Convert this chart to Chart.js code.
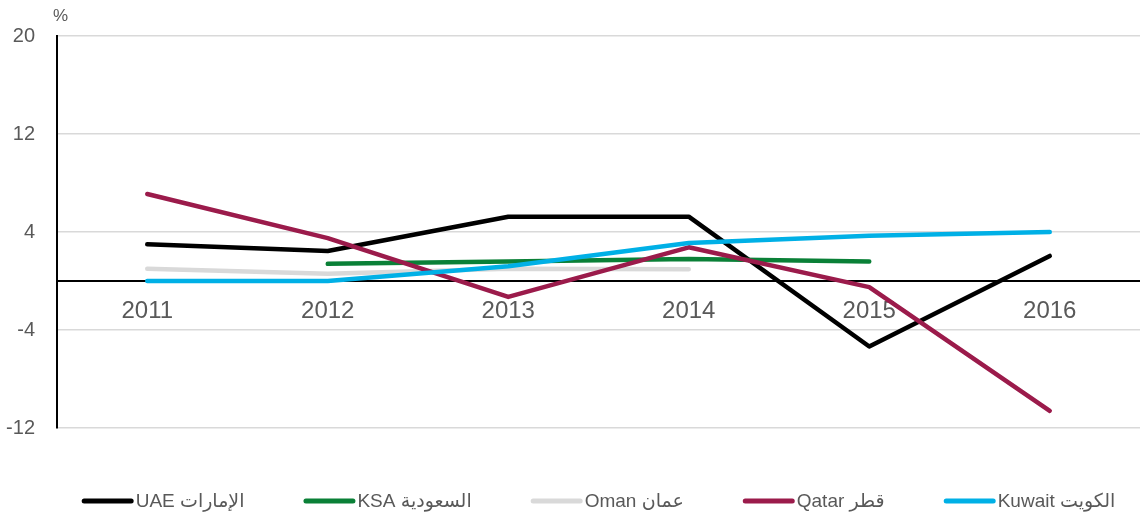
<!DOCTYPE html>
<html>
<head>
<meta charset="utf-8">
<script src="https://cdn.jsdelivr.net/npm/chart.js@4.4.0/dist/chart.umd.min.js"></script>
<style>
html,body{margin:0;padding:0;background:#fff;}
#wrap{width:1140px;height:514px;position:relative;}
</style>
</head>
<body>
<div id="wrap"><canvas id="c" width="1140" height="514"></canvas></div>
<script>
const years = ['2011','2012','2013','2014','2015','2016'];
const uae    = [3.0, 2.45, 5.25, 5.25, -5.35, 2.05];
const ksa    = [null, 1.4, 1.6, 1.8, 1.6, null];
const oman   = [1.0, 0.6, 1.0, 0.95, null, null];
const qatar  = [7.1, 3.5, -1.3, 2.75, -0.5, -10.6];
const kuwait = [0.0, 0.0, 1.2, 3.1, 3.7, 4.0];
const seriesLabels = ['UAE الإمارات', 'KSA السعودية', 'Oman عمان', 'Qatar قطر', 'Kuwait الكويت'];
const yTicks = [-12, -4, 4, 12, 20];
const unitLabel = '%';

const colors = ['#000000', '#0A8037', '#D9D9D9', '#9B1B4B', '#00B0E6'];
const FONT = '"Liberation Sans", Arial, "DejaVu Sans", sans-serif';
const TXT = '#595959';

const allSeries = [uae, ksa, oman, qatar, kuwait];
const datasets = allSeries.map((d, i) => ({
  label: seriesLabels[i],
  data: d,
  borderColor: colors[i],
  backgroundColor: colors[i],
  borderWidth: 4.5,
  pointRadius: 0,
  pointHoverRadius: 0,
  tension: 0,
  fill: false,
  spanGaps: false,
  borderCapStyle: 'round',
  borderJoinStyle: 'round',
  order: allSeries.length - i
}));

const percentPlugin = {
  id: 'percent',
  afterDraw(chart) {
    const ctx = chart.ctx;
    const y = chart.scales.y;
    ctx.save();
    ctx.fillStyle = TXT;
    ctx.font = '17px ' + FONT;
    ctx.textAlign = 'left';
    ctx.textBaseline = 'middle';
    ctx.fillText(unitLabel, y.right - 4, chart.chartArea.top - 20);
    ctx.restore();
  }
};

const legendPlugin = {
  id: 'lineLegend',
  afterDraw(chart) {
    const ctx = chart.ctx;
    const ca = chart.chartArea;
    ctx.save();
    ctx.font = '19px ' + FONT;
    const items = chart.data.datasets.map(ds => ({
      text: ds.label, color: ds.borderColor, w: ctx.measureText(ds.label).width
    }));
    const SW = 52, GAP = 2, IG = 59;
    const total = items.reduce((s, it) => s + SW + GAP + it.w, 0) + IG * (items.length - 1);
    let x = (ca.left + ca.right) / 2 - total / 2;
    const y = 501;
    ctx.textBaseline = 'middle';
    ctx.textAlign = 'left';
    items.forEach(it => {
      ctx.strokeStyle = it.color;
      ctx.lineWidth = 5;
      ctx.lineCap = 'round';
      ctx.beginPath();
      ctx.moveTo(x + 2.5, y);
      ctx.lineTo(x + SW - 2.5, y);
      ctx.stroke();
      ctx.fillStyle = TXT;
      ctx.fillText(it.text, x + SW + GAP, y + 1);
      x += SW + GAP + it.w + IG;
    });
    ctx.restore();
  }
};

new Chart(document.getElementById('c'), {
  type: 'line',
  data: { labels: years, datasets },
  options: {
    responsive: false,
    animation: false,
    devicePixelRatio: 1,
    layout: { padding: { top: 36, right: 0, left: 0, bottom: 86 } },
    plugins: {
      tooltip: { enabled: false },
      legend: { display: false }
    },
    scales: {
      x: {
        type: 'category',
        position: { y: 0 },
        offset: true,
        grid: { display: false, drawTicks: false },
        border: { display: true, color: '#000000', width: 2 },
        ticks: { color: TXT, font: { size: 24, family: FONT }, padding: 16, maxRotation: 0 }
      },
      y: {
        min: -12,
        max: 20,
        afterBuildTicks(scale) { scale.ticks = yTicks.map(v => ({ value: v })); },
        afterFit(scale) { scale.width = 57; },
        grid: { color: '#D9D9D9', lineWidth: 1.5, drawTicks: false },
        border: { display: true, color: '#000000', width: 2 },
        ticks: { color: TXT, font: { size: 20, family: FONT }, padding: 22 }
      }
    }
  },
  plugins: [percentPlugin, legendPlugin]
});
</script>
</body>
</html>
